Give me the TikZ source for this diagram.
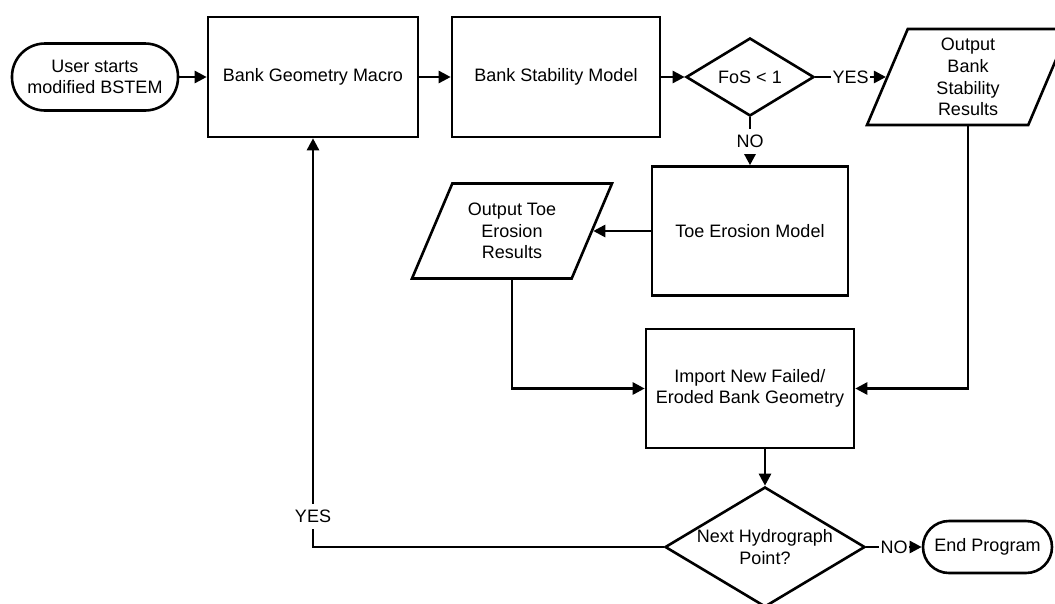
\documentclass[tikz,border=0pt]{standalone}
\usepackage{fontspec}
\setmainfont{Liberation Sans}
\usetikzlibrary{arrows.meta,shapes.geometric}
\newcommand\chartfont{\fontsize{18}{21.6}\selectfont}
\tikzset{
  outline/.style={draw=black, line width=2.6pt, fill=white, font=\chartfont,
                  align=center, inner sep=0pt},
  procbox/.style={outline, rectangle},
  termbox/.style={outline, rectangle, rounded corners=#1},
  decision/.style={outline, diamond},
  % empty parallelogram whose height (and so its slant) is set by inner ysep
  iobox/.style={outline, trapezium, trapezium left angle=67,
                trapezium right angle=113, trapezium stretches body,
                inner xsep=0pt, inner ysep=#1},
  plain/.style={font=\chartfont, align=center, inner sep=0pt},
  flow/.style={line width=2.6pt, -{Triangle[length=12pt,width=12pt]}},
  lbl/.style={fill=white, font=\chartfont, inner xsep=1.5pt, inner ysep=6pt},
}
\begin{document}
\begin{tikzpicture}[x=1pt,y=-1pt]
\useasboundingbox (0,0) rectangle (1055,603);
\fill[white] (0,0) rectangle (1055,603);
\clip (0,0) rectangle (1055,603);

% top row
\node[termbox=33pt, minimum width=166pt, minimum height=67pt] (start) at (95,77)
  {User starts\\modified BSTEM};
\node[procbox, minimum width=210pt, minimum height=120pt] (bgm) at (313,77)
  {Bank Geometry Macro};
\node[procbox, minimum width=208pt, minimum height=120pt] (bsm) at (556,77)
  {Bank Stability Model};
\node[decision, minimum width=128pt, minimum height=78pt] (fos) at (750,77)
  {FoS < 1};
\node[iobox=48pt, minimum width=202pt] (obs) at (968,77) {};
\node[plain] (obstext) at (obs.center) {Output\\Bank\\Stability\\Results};

% middle
\node[procbox, minimum width=196pt, minimum height=129pt] (toe) at (750,231)
  {Toe Erosion Model};
\node[iobox=47.5pt, minimum width=200pt] (oter) at (512,231) {};
\node[plain] (otertext) at (oter.center) {Output Toe\\Erosion\\Results};
\node[procbox, minimum width=208pt, minimum height=119pt] (imp) at (750,388.5)
  {Import New Failed/\\Eroded Bank Geometry};

% bottom
\node[decision, minimum width=200pt, minimum height=120pt] (nhp) at (765,547) {};
\node[plain] (nhptext) at (nhp.center) {Next Hydrograph\\Point?};
\node[termbox=26pt, minimum width=129pt, minimum height=52pt] (endp) at (987.5,547)
  {End Program};

% connectors
\draw[flow] (start) -- (bgm);
\draw[flow] (bgm) -- (bsm);
\draw[flow] (bsm) -- (fos);
\draw[flow] (fos) -- node[lbl] (yes1) {YES} (obs);
\draw[flow] (fos) -- node[lbl] (no1) {NO} (toe);
\draw[flow] (toe) -- (oter);
\draw[flow] (oter) |- (imp);
\draw[flow] (obs) |- (imp);
\draw[flow] (imp.south -| nhp.north) -- (nhp.north);
\draw[flow] (nhp) -- node[lbl] (no2) {NO} (endp);
\draw[flow] (nhp) -| node[lbl, pos=0.537] (yes2) {YES} (bgm);
\end{tikzpicture}
\end{document}
